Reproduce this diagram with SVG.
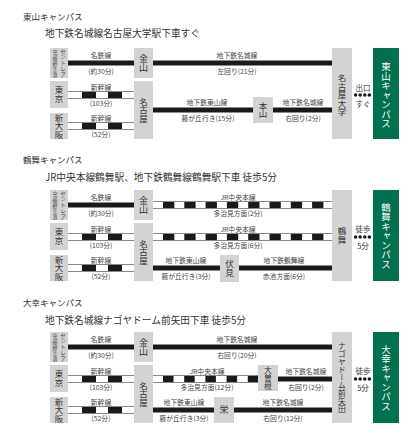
<svg xmlns="http://www.w3.org/2000/svg" width="414" height="439" viewBox="0 0 414 439">
<style>
text{font-family:"Noto Sans CJK JP","Noto Sans CJK SC",sans-serif;fill:#333;dominant-baseline:central}
.h1{font-size:8.5px}
.h2{font-size:9.7px}
.lb{font-size:6.8px;text-anchor:middle;fill:#444}
.bx{fill:#d3d3d3}
.gr{fill:#00704f}
.v{writing-mode:vertical-rl;text-anchor:middle;font-size:8.5px}
.vs{writing-mode:vertical-rl;text-anchor:middle;font-size:5.7px;fill:#444}
.vt{writing-mode:vertical-rl;text-anchor:middle;font-size:4.9px;fill:#444}
.vg{writing-mode:vertical-rl;text-anchor:middle;font-size:9.5px;fill:#fff}
.ex{font-size:7.5px;text-anchor:middle}
.sub{stroke:#1a1a1a;stroke-width:5}
.rail{stroke:#888;stroke-width:1}
.sk{stroke:#1a1a1a;stroke-width:6;stroke-dasharray:14 12}
.jr{stroke:#1a1a1a;stroke-width:6;stroke-dasharray:11.3 10}
.jr2{stroke:#1a1a1a;stroke-width:6;stroke-dasharray:10.5 10.7}
.dot{fill:#1a1a1a}
</style>

<!-- Section titles -->
<text class="h1" x="23" y="16">東山キャンパス</text>
<text class="h2" x="45" y="33">地下鉄名城線名古屋大学駅下車すぐ</text>
<text class="h1" x="23" y="159">鶴舞キャンパス</text>
<text class="h2" x="45" y="177">JR中央本線鶴舞駅、地下鉄鶴舞線鶴舞駅下車 徒歩5分</text>
<text class="h1" x="23" y="302">大幸キャンパス</text>
<text class="h2" x="45" y="320">地下鉄名城線ナゴヤドーム前矢田下車 徒歩5分</text>

<!-- ===== Section 1 ===== -->
<g id="sec1">
  <g id="s1-connectors">
    <line class="sub" x1="68" y1="63" x2="134" y2="63"/>
    <line class="sub" x1="153" y1="63" x2="332" y2="63"/>
    <line class="rail" x1="68" y1="91.5" x2="134" y2="91.5"/>
    <line class="rail" x1="68" y1="98.5" x2="134" y2="98.5"/>
    <line class="sk" x1="82" y1="95" x2="122" y2="95"/>
    <line class="rail" x1="68" y1="122.5" x2="134" y2="122.5"/>
    <line class="rail" x1="68" y1="129.5" x2="134" y2="129.5"/>
    <line class="sk" x1="82" y1="126" x2="122" y2="126"/>
    <line class="sub" x1="153" y1="110" x2="253" y2="110"/>
    <line class="sub" x1="273" y1="110" x2="332" y2="110"/>
    <circle class="dot" cx="355.6" cy="95" r="1.8"/><circle class="dot" cx="360.2" cy="95" r="1.8"/><circle class="dot" cx="364.8" cy="95" r="1.8"/><circle class="dot" cx="369.4" cy="95" r="1.8"/>
    <text class="lb" x="101" y="55">名鉄線</text>
    <text class="lb" x="101" y="71">(約30分)</text>
    <text class="lb" x="237" y="55">地下鉄名城線</text>
    <text class="lb" x="237" y="71">左回り(21分)</text>
    <text class="lb" x="101" y="87">新幹線</text>
    <text class="lb" x="101" y="103">(103分)</text>
    <text class="lb" x="101" y="118">新幹線</text>
    <text class="lb" x="101" y="134">(52分)</text>
    <text class="lb" x="207" y="102">地下鉄東山線</text>
    <text class="lb" x="208" y="118">藤が丘行き(15分)</text>
    <text class="lb" x="303" y="102">地下鉄名城線</text>
    <text class="lb" x="303" y="118">右回り(2分)</text>
    <text class="ex" x="363" y="87">出口</text>
    <text class="ex" x="363" y="103">すぐ</text>
  </g>
  <g id="s1-centrair"><rect class="bx" x="50" y="48" width="18" height="30"/><text class="vs" x="63" y="63">セントレア</text><text class="vt" x="55" y="63">中部国際空港</text></g>
  <g id="s1-kanayama"><rect class="bx" x="134" y="48" width="19" height="30"/><text class="v" x="143.5" y="63" style="font-size:9px">金山</text></g>
  <g id="s1-tokyo"><rect class="bx" x="50" y="81" width="18" height="27"/><text class="v" x="59" y="94.5">東京</text></g>
  <g id="s1-nagoya"><rect class="bx" x="134" y="81" width="19" height="58"/><text class="v" x="143.5" y="110">名古屋</text></g>
  <g id="s1-osaka"><rect class="bx" x="50" y="113" width="18" height="26"/><text class="v" x="59" y="126">新大阪</text></g>
  <g id="s1-motoyama"><rect class="bx" x="253" y="97" width="20" height="26"/><text class="v" x="263" y="110">本山</text></g>
  <g id="s1-meidai"><rect class="bx" x="332" y="48" width="20" height="91"/><text class="v" x="342" y="95">名古屋大学</text></g>
  <g id="s1-campus"><rect class="gr" x="373" y="48" width="26" height="91"/><text class="vg" x="386" y="95">東山キャンパス</text></g>
</g>

<!-- ===== Section 2 ===== -->
<g id="sec2" transform="translate(0,142)">
  <g id="s2-connectors">
    <line class="sub" x1="68" y1="63" x2="134" y2="63"/>
    <line class="rail" x1="153" y1="59.5" x2="332" y2="59.5"/>
    <line class="rail" x1="153" y1="66.5" x2="332" y2="66.5"/>
    <line class="jr" x1="163" y1="63" x2="323.5" y2="63"/>
    <line class="rail" x1="68" y1="91.5" x2="134" y2="91.5"/>
    <line class="rail" x1="68" y1="98.5" x2="134" y2="98.5"/>
    <line class="sk" x1="82" y1="95" x2="122" y2="95"/>
    <line class="rail" x1="153" y1="91.5" x2="332" y2="91.5"/>
    <line class="rail" x1="153" y1="98.5" x2="332" y2="98.5"/>
    <line class="jr" x1="163" y1="95" x2="323.5" y2="95"/>
    <line class="rail" x1="68" y1="122.5" x2="134" y2="122.5"/>
    <line class="rail" x1="68" y1="129.5" x2="134" y2="129.5"/>
    <line class="sk" x1="82" y1="126" x2="122" y2="126"/>
    <line class="sub" x1="153" y1="126" x2="220" y2="126"/>
    <line class="sub" x1="239" y1="126" x2="332" y2="126"/>
    <circle class="dot" cx="355.6" cy="95" r="1.8"/><circle class="dot" cx="360.2" cy="95" r="1.8"/><circle class="dot" cx="364.8" cy="95" r="1.8"/><circle class="dot" cx="369.4" cy="95" r="1.8"/>
    <text class="lb" x="101" y="55">名鉄線</text>
    <text class="lb" x="101" y="71">(約30分)</text>
    <text class="lb" x="238" y="55">JR中央本線</text>
    <text class="lb" x="238" y="71">多治見方面(2分)</text>
    <text class="lb" x="101" y="87">新幹線</text>
    <text class="lb" x="101" y="103">(103分)</text>
    <text class="lb" x="238" y="87">JR中央本線</text>
    <text class="lb" x="238" y="103">多治見方面(6分)</text>
    <text class="lb" x="101" y="118">新幹線</text>
    <text class="lb" x="101" y="134">(52分)</text>
    <text class="lb" x="186" y="118">地下鉄東山線</text>
    <text class="lb" x="186" y="134">藤が丘行き(3分)</text>
    <text class="lb" x="284" y="118">地下鉄鶴舞線</text>
    <text class="lb" x="284" y="134">赤池方面(6分)</text>
    <text class="ex" x="363" y="86">徒歩</text>
    <text class="ex" x="363" y="103">5分</text>
  </g>
  <g id="s2-centrair"><rect class="bx" x="50" y="48" width="18" height="30"/><text class="vs" x="63" y="63">セントレア</text><text class="vt" x="55" y="63">中部国際空港</text></g>
  <g id="s2-kanayama"><rect class="bx" x="134" y="48" width="19" height="30"/><text class="v" x="143.5" y="63" style="font-size:9px">金山</text></g>
  <g id="s2-tokyo"><rect class="bx" x="50" y="81" width="18" height="27"/><text class="v" x="59" y="94.5">東京</text></g>
  <g id="s2-nagoya"><rect class="bx" x="134" y="81" width="19" height="58"/><text class="v" x="143.5" y="110">名古屋</text></g>
  <g id="s2-osaka"><rect class="bx" x="50" y="113" width="18" height="26"/><text class="v" x="59" y="126">新大阪</text></g>
  <g id="s2-fushimi"><rect class="bx" x="220" y="113" width="19" height="27"/><text class="v" x="229.5" y="126.5">伏見</text></g>
  <g id="s2-tsurumai"><rect class="bx" x="332" y="48" width="20" height="91"/><text class="v" x="342" y="93.5">鶴舞</text></g>
  <g id="s2-campus"><rect class="gr" x="373" y="48" width="26" height="91"/><text class="vg" x="386" y="93.5">鶴舞キャンパス</text></g>
</g>

<!-- ===== Section 3 ===== -->
<g id="sec3" transform="translate(0,284)">
  <g id="s3-connectors">
    <line class="sub" x1="68" y1="63" x2="134" y2="63"/>
    <line class="sub" x1="153" y1="63" x2="332" y2="63"/>
    <line class="rail" x1="68" y1="91.5" x2="134" y2="91.5"/>
    <line class="rail" x1="68" y1="98.5" x2="134" y2="98.5"/>
    <line class="sk" x1="82" y1="95" x2="122" y2="95"/>
    <line class="rail" x1="153" y1="91.5" x2="258" y2="91.5"/>
    <line class="rail" x1="153" y1="98.5" x2="258" y2="98.5"/>
    <line class="jr2" x1="163" y1="95" x2="258" y2="95"/>
    <line class="sub" x1="278" y1="95" x2="332" y2="95"/>
    <line class="rail" x1="68" y1="122.5" x2="134" y2="122.5"/>
    <line class="rail" x1="68" y1="129.5" x2="134" y2="129.5"/>
    <line class="sk" x1="82" y1="126" x2="122" y2="126"/>
    <line class="sub" x1="153" y1="126" x2="214" y2="126"/>
    <line class="sub" x1="234" y1="126" x2="332" y2="126"/>
    <circle class="dot" cx="355.6" cy="95" r="1.8"/><circle class="dot" cx="360.2" cy="95" r="1.8"/><circle class="dot" cx="364.8" cy="95" r="1.8"/><circle class="dot" cx="369.4" cy="95" r="1.8"/>
    <text class="lb" x="101" y="55">名鉄線</text>
    <text class="lb" x="101" y="71">(約30分)</text>
    <text class="lb" x="237" y="55">地下鉄名城線</text>
    <text class="lb" x="237" y="71">右回り(20分)</text>
    <text class="lb" x="101" y="87">新幹線</text>
    <text class="lb" x="101" y="103">(103分)</text>
    <text class="lb" x="207" y="87">JR中央本線</text>
    <text class="lb" x="207" y="103">多治見方面(12分)</text>
    <text class="lb" x="306" y="87">地下鉄名城線</text>
    <text class="lb" x="306" y="103">右回り(2分)</text>
    <text class="lb" x="101" y="118">新幹線</text>
    <text class="lb" x="101" y="134">(52分)</text>
    <text class="lb" x="184" y="118">地下鉄東山線</text>
    <text class="lb" x="184" y="134">藤が丘行き(3分)</text>
    <text class="lb" x="283" y="118">地下鉄名城線</text>
    <text class="lb" x="283" y="134">右回り(12分)</text>
    <text class="ex" x="363" y="86">徒歩</text>
    <text class="ex" x="363" y="103">5分</text>
  </g>
  <g id="s3-centrair"><rect class="bx" x="50" y="48" width="18" height="30"/><text class="vs" x="63" y="63">セントレア</text><text class="vt" x="55" y="63">中部国際空港</text></g>
  <g id="s3-kanayama"><rect class="bx" x="134" y="48" width="19" height="30"/><text class="v" x="143.5" y="63" style="font-size:9px">金山</text></g>
  <g id="s3-tokyo"><rect class="bx" x="50" y="81" width="18" height="27"/><text class="v" x="59" y="94.5">東京</text></g>
  <g id="s3-nagoya"><rect class="bx" x="134" y="81" width="19" height="58"/><text class="v" x="143.5" y="110">名古屋</text></g>
  <g id="s3-osaka"><rect class="bx" x="50" y="113" width="18" height="26"/><text class="v" x="59" y="126">新大阪</text></g>
  <g id="s3-ozone"><rect class="bx" x="258" y="81" width="20" height="26"/><text class="v" x="268" y="94" style="font-size:7.8px">大曽根</text></g>
  <g id="s3-sakae"><rect class="bx" x="214" y="113" width="20" height="26"/><text class="v" x="224" y="126" style="font-size:9px">栄</text></g>
  <g id="s3-dome"><rect class="bx" x="332" y="48" width="20" height="91"/><text class="v" x="342" y="93.5" style="font-size:7.8px">ナゴヤドーム前矢田</text></g>
  <g id="s3-campus"><rect class="gr" x="373" y="48" width="26" height="91"/><text class="vg" x="386" y="93.5">大幸キャンパス</text></g>
</g>
</svg>
